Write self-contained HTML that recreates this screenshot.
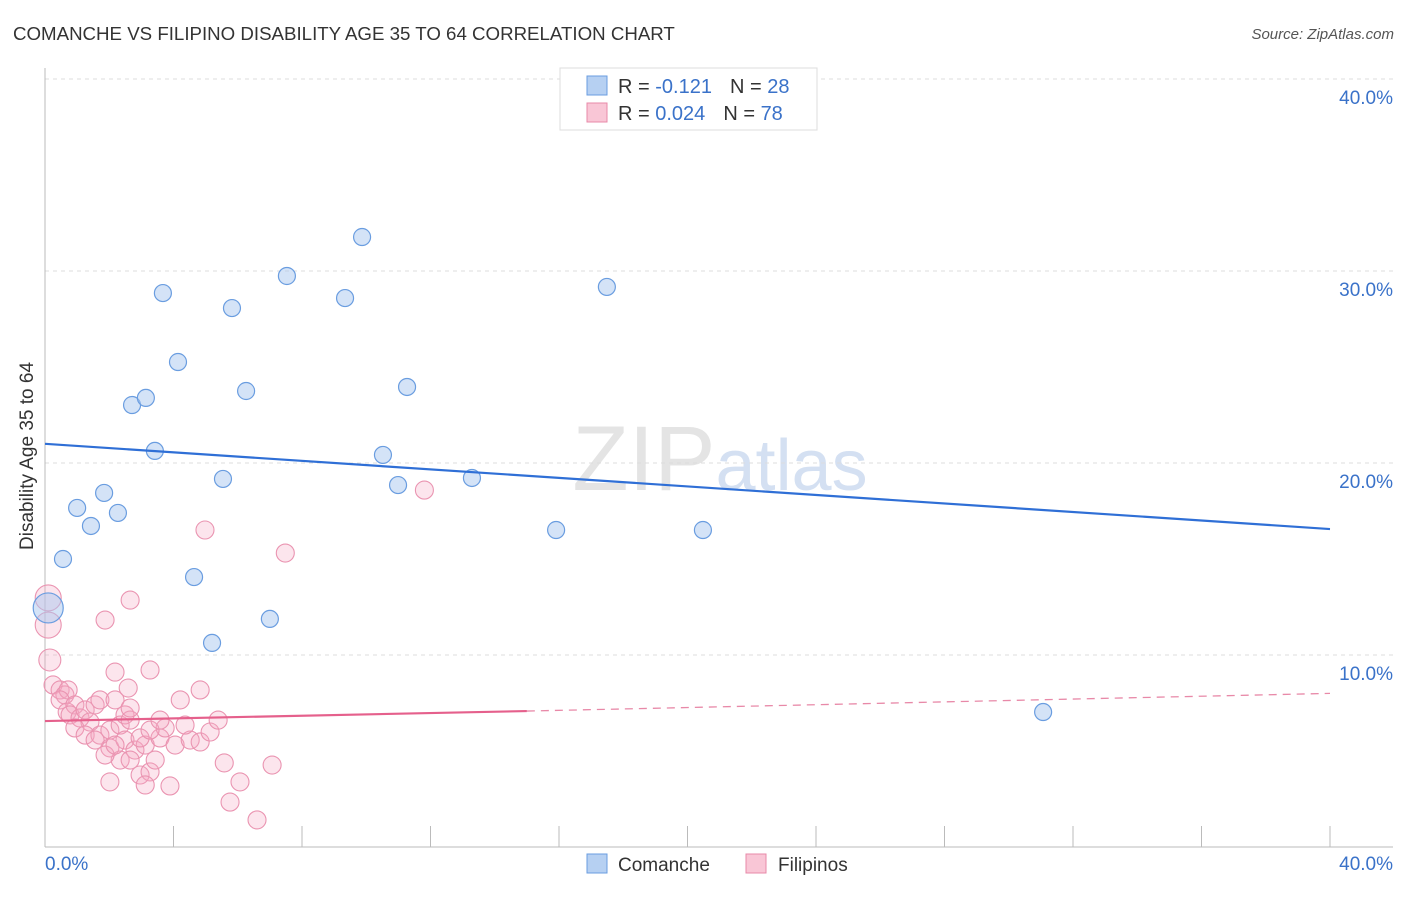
<!DOCTYPE html>
<html><head><meta charset="utf-8"><style>
body{margin:0;background:#fff;font-family:"Liberation Sans",sans-serif}
svg text{font-family:"Liberation Sans",sans-serif}
</style></head><body>
<svg id="chart" width="1406" height="892" viewBox="0 0 1406 892" xmlns="http://www.w3.org/2000/svg">
<text x="13" y="40" font-size="18.7" fill="#333">COMANCHE VS FILIPINO DISABILITY AGE 35 TO 64 CORRELATION CHART</text>
<text x="1394" y="39" font-size="15" fill="#555" font-style="italic" text-anchor="end">Source: ZipAtlas.com</text>
<text x="720" y="490" font-size="92" fill="#e4e4e4" text-anchor="middle" font-family="Liberation Serif">ZIP<tspan fill="#d4e0f2" font-family="Liberation Sans" font-size="72">atlas</tspan></text>
<g id="grid"></g>
<g id="axes"></g>
<g id="points"></g>
<g id="lines"></g>
<text transform="translate(33,456) rotate(-90)" font-size="19" fill="#333" text-anchor="middle">Disability Age 35 to 64</text>
<g>
<rect x="560" y="68" width="257" height="62" fill="#fff" stroke="#ddd"/>
<rect x="587" y="76" width="20" height="19" fill="#b6d0f2" stroke="#6a9de0"/>
<rect x="587" y="103" width="20" height="19" fill="#f9c6d6" stroke="#e889a8"/>
<text x="618" y="93" font-size="20" fill="#333">R = <tspan fill="#3a72c9">-0.121</tspan><tspan dx="18">N = </tspan><tspan fill="#3a72c9">28</tspan></text>
<text x="618" y="120" font-size="20" fill="#333">R = <tspan fill="#3a72c9">0.024</tspan><tspan dx="18">N = </tspan><tspan fill="#3a72c9">78</tspan></text>
</g>
<g>
<rect x="587" y="854" width="20" height="19" fill="#b6d0f2" stroke="#6a9de0"/>
<text x="618" y="871" font-size="19" fill="#333">Comanche</text>
<rect x="746" y="854" width="20" height="19" fill="#f9c6d6" stroke="#e889a8"/>
<text x="778" y="871" font-size="19" fill="#333">Filipinos</text>
</g>
</svg>
<script>
const xTicks=[0,4,8,12,16,20,24,28,32,36,40];
const yTicks=[10,20,30,40];
const blueX=[0.56,1.0,1.43,1.84,2.27,2.71,3.14,3.42,3.67,4.14,4.64,5.2,5.54,5.82,6.26,7.0,7.53,9.34,9.87,10.52,10.99,11.27,13.29,15.91,17.49,20.48,31.07,0.1];
const blueY=[15.0,17.66,16.72,18.44,17.4,23.02,23.39,20.63,28.85,25.26,14.06,10.63,19.17,28.07,23.75,11.88,29.74,28.59,31.77,20.42,18.85,23.96,19.22,16.51,29.17,16.51,7.03,12.45];
const pinkX=[0.1,0.1,0.15,0.25,0.47,0.62,0.72,0.47,0.69,0.93,0.78,1.09,1.25,1.56,1.71,1.4,0.93,1.25,1.71,2.02,2.34,2.49,2.65,2.18,2.59,3.27,1.87,2.65,4.98,7.48,11.81,2.18,2.02,2.34,2.49,2.8,3.12,3.58,3.74,4.05,4.52,4.36,4.83,5.14,5.39,4.21,4.83,5.58,6.07,5.76,6.6,7.07,2.02,2.96,3.27,3.12,3.89,2.65,3.43,1.87,1.56,2.18,2.96,3.27,3.58,2.65];
const pinkY=[12.97,11.56,9.74,8.44,8.18,7.92,8.18,7.66,7.03,7.4,6.88,6.72,7.14,7.4,7.66,6.51,6.2,5.83,5.83,6.09,6.35,6.88,6.61,7.66,8.28,9.22,11.82,12.86,16.51,15.31,18.59,9.11,5.16,4.53,5.57,5.05,5.31,5.68,6.2,5.31,5.57,6.35,5.47,5.99,6.61,7.66,8.18,4.38,3.39,2.34,1.41,4.27,3.39,3.75,3.91,3.23,3.18,4.53,4.53,4.79,5.57,5.31,5.68,6.09,6.61,7.24];
const blueLine=[21.0,16.56];
const pinkLine=[6.56,7.08,8.0];
const pinkSolidEnd=15;
const NS="http://www.w3.org/2000/svg";
const X=v=>45+v*32.125, Y=v=>847-v*19.2;
function mk(t,a,p){const e=document.createElementNS(NS,t);for(const k in a)e.setAttribute(k,a[k]);p.appendChild(e);return e;}
const grid=document.getElementById('grid'),axes=document.getElementById('axes'),pts=document.getElementById('points'),lines=document.getElementById('lines');
yTicks.forEach(v=>{
 const l=mk('line',{x1:45,x2:1393,y1:Y(v),y2:Y(v),stroke:'#ddd','stroke-dasharray':'4,4'},grid);
 
 
 const t=mk('text',{x:1393,y:Y(v)+25,'font-size':19,fill:'#3a72c9','text-anchor':'end'},axes);
 t.textContent=v.toFixed(1)+'%';
 
 
});
const ya=mk('line',{x1:45,x2:45,y1:68,y2:847,stroke:'#bbb'},axes);


const xa=mk('line',{x1:45,x2:1393,y1:847,y2:847,stroke:'#bbb'},axes);


xTicks.forEach(v=>{
 const l=mk('line',{x1:X(v),x2:X(v),y1:826,y2:847,stroke:'#bbb'},axes);
 
 
});
[[0,'start',45],[40,'end',1393]].forEach(([v,a,x])=>{
 const t=mk('text',{x:x,y:870,'font-size':19,fill:'#3a72c9','text-anchor':a},axes);
 t.textContent=v.toFixed(1)+'%';
 
 
});
pinkX.forEach((x,i)=>{
 const r=i<2?13:(i==2?11:9);
 const c=mk('circle',{cx:X(x),cy:Y(pinkY[i]),r:r,fill:'rgba(244,170,195,0.3)',stroke:'#ea94b1','stroke-width':1.1},pts);
 
 
});
blueX.forEach((x,i)=>{
 const r=i==blueX.length-1?15:8.5;
 const c=mk('circle',{cx:X(x),cy:Y(blueY[i]),r:r,fill:'rgba(170,200,240,0.5)',stroke:'#6a9de0','stroke-width':1.2},pts);
 
 
});
const bl=mk('line',{x1:X(0),y1:Y(blueLine[0]),x2:X(40),y2:Y(blueLine[1]),stroke:'#2f6fd6','stroke-width':2.2},lines);


const pl=mk('line',{x1:X(0),y1:Y(pinkLine[0]),x2:X(pinkSolidEnd),y2:Y(pinkLine[1]),stroke:'#e5608c','stroke-width':2.2},lines);


const pd=mk('line',{x1:X(pinkSolidEnd),y1:Y(pinkLine[1]),x2:X(40),y2:Y(pinkLine[2]),stroke:'#e889a8','stroke-width':1.3,'stroke-dasharray':'8,6'},lines);


</script>
</body></html>
